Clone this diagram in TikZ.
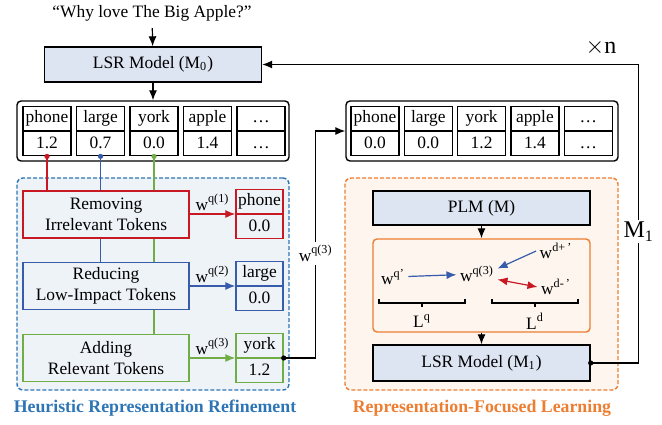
\documentclass[tikz,border=0pt]{standalone}
\usepackage{fontspec}
\setmainfont{Liberation Serif}
\usetikzlibrary{arrows.meta}

\definecolor{hrrblue}{RGB}{46,117,182}
\definecolor{rflorange}{RGB}{237,125,49}
\definecolor{rmred}{RGB}{200,24,36}
\definecolor{rdblue}{RGB}{55,92,172}
\definecolor{adgreen}{RGB}{112,173,71}
\definecolor{panelblue}{RGB}{238,243,248}
\definecolor{panelpeach}{RGB}{253,245,238}
\definecolor{modelfill}{RGB}{221,228,242}

\tikzset{
  model/.style={draw, fill=modelfill, line width=0.7pt, minimum width=108.5pt, minimum height=17.5pt},
  cell/.style={draw, line width=0.7pt, minimum width=24pt, minimum height=12pt, inner sep=0pt,
               text height=6.5pt, text depth=2pt},
  minicell/.style={cell, minimum width=23.5pt},
  stage/.style={draw, line width=0.7pt, minimum width=83pt, minimum height=23.5pt, align=center,
                inner sep=1pt},
  dot/.style={circle, fill, inner sep=0pt, minimum size=2.6pt},
  panel/.style={dash pattern=on 2pt off 1pt, line width=0.7pt, rounded corners=3pt,
                minimum width=136pt, minimum height=106pt},
  weight/.style={inner sep=1.5pt},
}

\begin{document}
\begin{tikzpicture}[x=0.5pt,y=-0.5pt,>={Latex[length=5pt,width=4pt]},line width=0.6pt,font=\fontsize{8.7}{10.2}\selectfont]
    \useasboundingbox (0,0) rectangle (662,424);

    % query and first model
    \node (query) at (152,13) {“Why love The Big Apple?”};
    \node[model] (m0) at (153,64.5) {LSR Model (M\textsubscript{0})};

    % token weights before and after refinement
    \node[draw, fill=white, rounded corners=2pt, line width=0.7pt, minimum width=136pt, minimum height=30pt] (row0) at (153,131) {};
    \node[draw, fill=white, rounded corners=2pt, line width=0.7pt, minimum width=136pt, minimum height=30pt] (row1) at (482,131) {};
    \foreach \w/\v [count=\i from 0] in {phone/1.2, large/0.7, york/0.0, apple/1.4, \ldots/\ldots} {
      \node[cell, anchor=south] (a\i) at (47+53.5*\i,131) {\w};
      \node[cell, anchor=north] (b\i) at (47+53.5*\i,131) {\v};
    }
    \foreach \w/\v [count=\i from 0] in {phone/0.0, large/0.0, york/1.2, apple/1.4, \ldots/\ldots} {
      \node[cell, anchor=south] (c\i) at (375+53.3*\i,131) {\w};
      \node[cell, anchor=north] (d\i) at (375+53.3*\i,131) {\v};
    }

    % heuristic refinement
    \node[panel, draw=hrrblue, fill=panelblue] (hrr) at (153,284) {};
    \node[text=hrrblue, font=\bfseries\fontsize{8.9}{11}\selectfont] (hrrtitle) at (155,408) {Heuristic Representation Refinement};

    \node[stage, draw=rmred] (rm) at (106,214.5) {Removing\\Irrelevant Tokens};
    \node[stage, draw=rdblue] (rd) at (106,286) {Reducing\\Low-Impact Tokens};
    \node[stage, draw=adgreen] (ad) at (106,358) {Adding\\Relevant Tokens};

    \node[minicell, draw=rmred, anchor=south] (pw) at (259.5,214) {phone};
    \node[minicell, draw=rmred, anchor=north] (pv) at (259.5,214) {0.0};
    \node[minicell, draw=rdblue, anchor=south] (lw) at (259.5,286) {large};
    \node[minicell, draw=rdblue, anchor=north] (lv) at (259.5,286) {0.0};
    \node[minicell, draw=adgreen, anchor=south] (yw) at (259.5,358) {york};
    \node[minicell, draw=adgreen, anchor=north] (yv) at (259.5,358) {1.2};

    \draw[rmred] (b0.south) node[dot] {} -- (b0.south |- rm.north);
    \draw[rdblue] (b1.south) node[dot] {} -- (b1.south |- rm.north);
    \draw[rdblue] (b1.south |- rm.south) -- (b1.south |- rd.north);
    \draw[adgreen] (b2.south) node[dot] {} -- (b2.south |- rm.north);
    \draw[adgreen] (b2.south |- rm.south) -- (b2.south |- rd.north);
    \draw[adgreen] (b2.south |- rd.south) -- (b2.south |- ad.north);

    \draw[->, rmred] (rm.east |- pw.south) -- (pw.south west) node[midway, above, text=black, weight] {w\textsuperscript{q(1)}};
    \draw[->, rdblue] (rd.east |- lw.south) -- (lw.south west) node[midway, above, text=black, weight] {w\textsuperscript{q(2)}};
    \draw[->, adgreen] (ad.east |- yw.south) -- (yw.south west) node[midway, above, text=black, weight] {w\textsuperscript{q(3)}};

    \draw[->] (yw.south east) node[dot] {} -- ++(32,0) |- node[pos=0.23, fill=white, weight] {w\textsuperscript{q(3)}} (row1.west);

    % representation-focused learning
    \node[panel, draw=rflorange, fill=panelpeach, minimum width=136.5pt] (rfl) at (481.5,284) {};
    \node[text=rflorange, font=\bfseries\fontsize{8.9}{11}\selectfont] (rfltitle) at (482,408) {Representation-Focused Learning};

    \node[model, minimum height=17pt] (plm) at (481.5,208) {PLM (M)};
    \node[draw=rflorange, fill=panelpeach, rounded corners=2pt, line width=0.7pt, minimum width=108.5pt, minimum height=46.5pt] (loss) at (481.5,285.5) {};
    \node[model, minimum height=18pt] (m1) at (481.5,363) {LSR Model (M\textsubscript{1})};
    \draw[->] (plm) -- (loss);
    \draw[->] (loss) -- (m1);

    \node[weight] (wq) at (393,277) {w\textsuperscript{q'}};
    \node[weight] (wq3) at (477,274) {w\textsuperscript{q(3)}};
    \node[weight] (wdp) at (556,251) {w\textsuperscript{d+\,'}};
    \node[weight] (wdm) at (556,287) {w\textsuperscript{d-\,'}};
    \draw[->, rdblue] (wq) -- (wq3);
    \draw[->, rdblue] (wdp.west) -- (wq3.15);
    \draw[<->, rmred] (wq3.-15) -- (wdm.west);

    \draw (379,299) -- (379,303) -- (465,303) -- (465,299) (422,303) -- (422,307);
    \draw (492,299) -- (492,303) -- (578,303) -- (578,299) (535,303) -- (535,307);
    \node (lq) at (422,321) {L\textsuperscript{q}};
    \node (ld) at (535,321) {L\textsuperscript{d}};

    % feedback loop
    \draw[->] (query) -- (m0);
    \draw[->] (m0) -- (row0);
    \draw[->] (m1.east) node[dot] {} -- ++(48,0) |- node[pos=0.22, fill=white, inner sep=1pt, font=\fontsize{12}{14}\selectfont] {M\textsubscript{1}} (m0.east);
    \node[font=\fontsize{12}{14}\selectfont] (rounds) at (601,47) {$\times$n};
\end{tikzpicture}
\end{document}
